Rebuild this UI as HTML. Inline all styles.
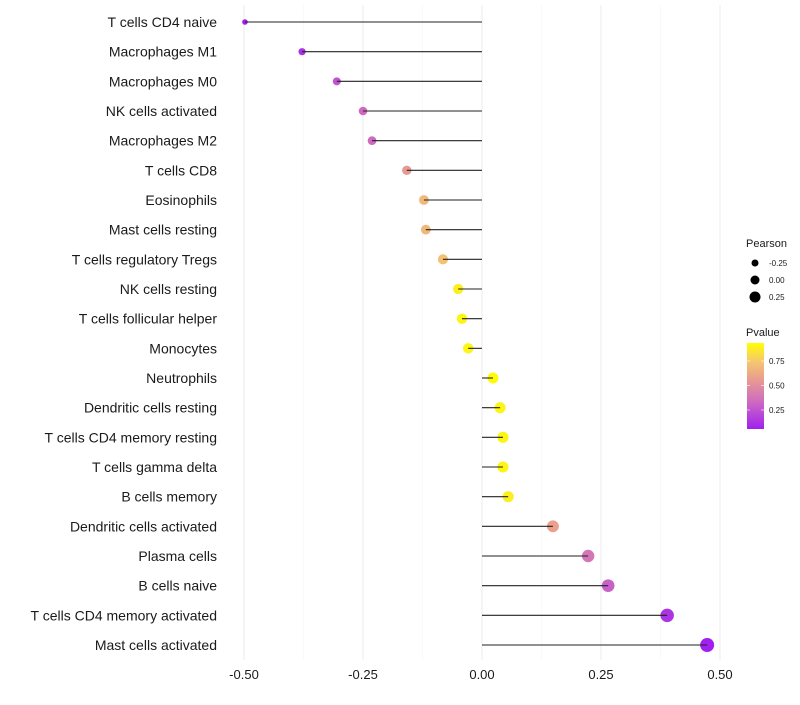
<!DOCTYPE html>
<html><head><meta charset="utf-8"><style>
body{margin:0;background:#fff;font-family:"Liberation Sans",sans-serif;}
svg text{font-family:"Liberation Sans",sans-serif;}
</style></head><body>
<svg id="chart" width="800" height="700" xmlns="http://www.w3.org/2000/svg"></svg>
<script>
const categories=["T cells CD4 naive","Macrophages M1","Macrophages M0","NK cells activated","Macrophages M2","T cells CD8","Eosinophils","Mast cells resting","T cells regulatory  Tregs ","NK cells resting","T cells follicular helper","Monocytes","Neutrophils","Dendritic cells resting","T cells CD4 memory resting","T cells gamma delta","B cells memory","Dendritic cells activated","Plasma cells","B cells naive","T cells CD4 memory activated","Mast cells activated"];
const pearson=[-0.498,-0.378,-0.305,-0.25,-0.231,-0.158,-0.122,-0.118,-0.082,-0.05,-0.042,-0.029,0.023,0.038,0.044,0.044,0.055,0.149,0.223,0.265,0.389,0.473];
const pvalues=[0.03,0.12,0.25,0.33,0.34,0.55,0.68,0.68,0.72,0.88,0.9,0.9,0.92,0.9,0.9,0.9,0.88,0.58,0.38,0.3,0.13,0.05];
const xTicks=[-0.5,-0.25,0,0.25,0.5];
const xTickLabels=["-0.50","-0.25","0.00","0.25","0.50"];
const sizeLegend=[-0.25,0,0.25];
const colorLegend=[0.25,0.5,0.75];

const NS="http://www.w3.org/2000/svg";
const svg=document.getElementById('chart');
function mk(t,a,p){const e=document.createElementNS(NS,t);for(const k in a)e.setAttribute(k,a[k]);(p||svg).appendChild(e);return e;}
const xS=v=>482+v*476;
const yS=i=>22+i*(623/21);
const rS=v=>Math.sqrt(Math.max(2,29+42.4*v));
const rL=v=>4.5+4*v;
function lerp(a,b,t){return a+(b-a)*t;}
const stops=[[0.056,[160,32,240]],[0.35,[208,110,190]],[0.58,[234,160,140]],[0.75,[245,200,110]],[0.934,[255,255,0]]];
function col(p){p=Math.max(stops[0][0],Math.min(stops[stops.length-1][0],p));for(let i=0;i<stops.length-1;i++){const a=stops[i],b=stops[i+1];if(p<=b[0]){const t=(p-a[0])/(b[0]-a[0]);return `rgb(${[0,1,2].map(k=>Math.round(lerp(a[1][k],b[1][k],t))).join(',')})`;}}}

xTicks.forEach((v,i)=>{
 const g=mk('line',{x1:xS(v),x2:xS(v),y1:5,y2:660,stroke:'#ebebeb','stroke-width':1});
 
 
 if(i<xTicks.length-1){const m=mk('line',{x1:xS((v+xTicks[i+1])/2),x2:xS((v+xTicks[i+1])/2),y1:5,y2:660,stroke:'#f5f5f5','stroke-width':0.6});
 
 }
 const t=mk('text',{x:xS(v),y:679,'text-anchor':'middle','font-size':13,fill:'#1a1a1a'});t.textContent=xTickLabels[i];
 
 
});
categories.forEach((c,i)=>{
 const y=yS(i);
 const t=mk('text',{x:217,y:y+5,'text-anchor':'end','font-size':14,fill:'#1a1a1a'});t.textContent=c;
 
 
 const pt=mk('circle',{cx:xS(pearson[i]),cy:y,r:rS(pearson[i]),fill:col(pvalues[i])});
 
 
 const ln=mk('line',{x1:xS(0),x2:xS(pearson[i]),y1:y,y2:y,stroke:'#222','stroke-width':1.1});
 
 
});
const lt=mk('text',{x:746,y:247,'font-size':11,fill:'#1a1a1a'});lt.textContent='Pearson';


sizeLegend.forEach((v,i)=>{const y=263+i*17;
 const c=mk('circle',{cx:755,cy:y,r:rL(v),fill:'#000'});
 
 
 const t=mk('text',{x:769,y:y+3,'font-size':8,fill:'#1a1a1a'});t.textContent=v.toFixed(2);
 
 });
const ct=mk('text',{x:746,y:336,'font-size':11,fill:'#1a1a1a'});ct.textContent='Pvalue';


const defs=mk('defs',{});const lg=mk('linearGradient',{id:'pg',x1:0,y1:1,x2:0,y2:0},defs);
stops.forEach(s=>{mk('stop',{offset:(s[0]-0.056)/(0.934-0.056),'stop-color':`rgb(${s[1].join(',')})`},lg);});
const bar=mk('rect',{x:747,y:343,width:17,height:86,fill:'url(#pg)'});


colorLegend.forEach(v=>{const y=429-(v-0.056)/(0.878)*86;
 mk('line',{x1:747,x2:750,y1:y,y2:y,stroke:'#fff','stroke-width':0.6});mk('line',{x1:761,x2:764,y1:y,y2:y,stroke:'#fff','stroke-width':0.6});
 const t=mk('text',{x:769,y:y+3,'font-size':8,fill:'#1a1a1a'});t.textContent=v.toFixed(2);
 
 });
</script>
</body></html>
